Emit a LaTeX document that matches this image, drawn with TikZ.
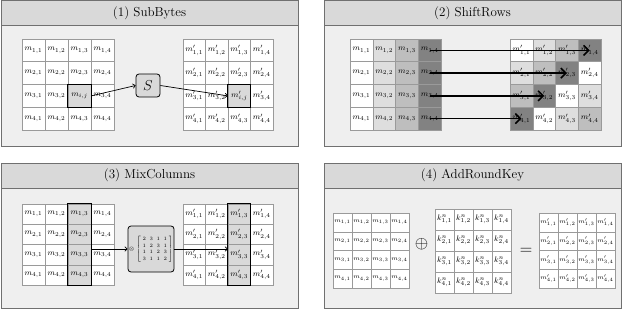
\documentclass[tikz,border=0pt]{standalone}
\usepackage{amsmath}
\usetikzlibrary{arrows.meta}
\definecolor{panelbg}{HTML}{EFEFEF}
\definecolor{headbg}{HTML}{D9D9D9}
\definecolor{panelline}{HTML}{707070}
\definecolor{cellline}{HTML}{9A9A9A}
\definecolor{hlfill}{HTML}{D9D9D9}
\definecolor{shade1}{HTML}{FFFFFF}
\definecolor{shade2}{HTML}{DEDEDE}
\definecolor{shade3}{HTML}{BEBEBE}
\definecolor{shade4}{HTML}{828282}
\begin{document}
\begin{tikzpicture}[x=1pt,y=-1pt,
  panelbox/.style={draw=panelline,fill=panelbg,line width=1pt,minimum width=297pt,minimum height=145pt,inner sep=0pt},
  headbox/.style={draw=panelline,fill=headbg,line width=1pt,minimum width=297pt,minimum height=25pt,inner sep=0pt,font=\fontsize{13}{15}\selectfont},
  cell/.style={draw=cellline,fill=white,line width=0.5pt,inner sep=0pt,font=\fontsize{8.5}{10}\selectfont},
  smallcell/.style={cell,font=\fontsize{6.3}{8}\selectfont},
  keycell/.style={cell,font=\fontsize{8}{10}\selectfont},
  hlframe/.style={draw=black,line width=1pt},
  thinarrow/.style={-{To[length=3pt,width=5pt]},line width=0.7pt},
  bigarrow/.style={-{Straight Barb[length=5pt,width=10pt,line width=1.5pt]},line width=1.5pt},
  opbox/.style={draw=black,fill=hlfill,rounded corners=3pt,line width=0.8pt,inner sep=0pt},
  opsym/.style={inner sep=0pt,font=\fontsize{17}{19}\selectfont}
]
\useasboundingbox (0,0) rectangle (623,310);

% ---------- panels ----------
\node[panelbox] (P1) at (149.5,73.5) {};
\node[headbox] (H1) at (149.5,13.5) {(1) SubBytes};
\node[panelbox] (P2) at (472.5,73.5) {};
\node[headbox] (H2) at (472.5,13.5) {(2) ShiftRows};
\node[panelbox] (P3) at (149.5,235.5) {};
\node[headbox] (H3) at (149.5,175.5) {(3) MixColumns};
\node[panelbox] (P4) at (472.5,235.5) {};
\node[headbox] (H4) at (472.5,175.5) {(4) AddRoundKey};

% ---------- (1) SubBytes ----------
\foreach \i in {1,...,4}{
  \foreach \j in {1,...,4}{
    \ifnum\i\j=33
      \node[cell,fill=hlfill,minimum width=23pt,minimum height=22.75pt] (A-\i-\j) at ({22+(\j-0.5)*23},{39+(\i-0.5)*22.75}) {$m_{i,j}$};
      \node[cell,fill=hlfill,minimum width=22.5pt,minimum height=22.75pt] (B-\i-\j) at ({183+(\j-0.5)*22.5},{39+(\i-0.5)*22.75}) {$m'_{i,j}$};
    \else
      \node[cell,minimum width=23pt,minimum height=22.75pt] (A-\i-\j) at ({22+(\j-0.5)*23},{39+(\i-0.5)*22.75}) {$m_{\i,\j}$};
      \node[cell,minimum width=22.5pt,minimum height=22.75pt] (B-\i-\j) at ({183+(\j-0.5)*22.5},{39+(\i-0.5)*22.75}) {$m'_{\i,\j}$};
    \fi
  }
}
\draw[hlframe] (A-3-3.north west) rectangle (A-3-3.south east);
\draw[hlframe] (B-3-3.north west) rectangle (B-3-3.south east);
\node[opbox,minimum width=24pt,minimum height=23pt,font=\fontsize{15}{17}\selectfont] (S) at (148,85.5) {$S$};
\draw[thinarrow] (A-3-3.east) -- (S.west);
\draw[thinarrow] (S.east) -- (B-3-3.west);

% ---------- (2) ShiftRows ----------
\foreach \i in {1,...,4}{
  \foreach \j in {1,...,4}{
    \pgfmathtruncatemacro\k{mod(\i+\j-2,4)+1}
    \node[cell,fill=shade\j,minimum width=22.75pt,minimum height=22.75pt] (L-\i-\j) at ({350+(\j-0.5)*22.75},{39+(\i-0.5)*22.75}) {$m_{\i,\j}$};
    \node[cell,fill=shade\k,minimum width=22.75pt,minimum height=22.75pt] (R-\i-\j) at ({510+(\j-0.5)*22.75},{39+(\i-0.5)*22.75}) {$m'_{\i,\j}$};
  }
}
\foreach \i in {1,...,4}{
  \pgfmathtruncatemacro\t{5-\i}
  \draw[bigarrow] (L-\i-4.center) -- (R-\i-\t.center);
}

% ---------- (3) MixColumns ----------
\foreach \i in {1,...,4}{
  \foreach \j in {1,...,4}{
    \ifnum\j=3
      \node[cell,fill=hlfill,minimum width=23pt,minimum height=20.25pt] (C-\i-\j) at ({22+(\j-0.5)*23},{204+(\i-0.5)*20.25}) {$m_{\i,\j}$};
      \node[cell,fill=hlfill,minimum width=22.5pt,minimum height=20.25pt] (D-\i-\j) at ({183+(\j-0.5)*22.5},{204+(\i-0.5)*20.25}) {$m'_{\i,\j}$};
    \else
      \node[cell,minimum width=23pt,minimum height=20.25pt] (C-\i-\j) at ({22+(\j-0.5)*23},{204+(\i-0.5)*20.25}) {$m_{\i,\j}$};
      \node[cell,minimum width=22.5pt,minimum height=20.25pt] (D-\i-\j) at ({183+(\j-0.5)*22.5},{204+(\i-0.5)*20.25}) {$m'_{\i,\j}$};
    \fi
  }
}
\draw[hlframe] (C-1-3.north west) rectangle (C-4-3.south east);
\draw[hlframe] (D-1-3.north west) rectangle (D-4-3.south east);
\node[opbox,minimum width=46pt,minimum height=46pt,font=\fontsize{5.5}{6.5}\selectfont] (M) at (151,249)
  {$\otimes\,\left[\arraycolsep=1.8pt\renewcommand{\arraystretch}{1}\begin{array}{cccc}2&3&1&1\\1&2&3&1\\1&1&2&3\\3&1&1&2\end{array}\right]$\hspace{3pt}};
\draw[thinarrow] (C-3-3.east |- M.west) -- (M.west);
\draw[thinarrow] (M.east) -- (D-3-3.west |- M.east);

% ---------- (4) AddRoundKey ----------
\foreach \i in {1,...,4}{
  \foreach \j in {1,...,4}{
    \node[smallcell,minimum width=19pt,minimum height=18.75pt] (E-\i-\j) at ({333+(\j-0.5)*19},{213+(\i-0.5)*18.75}) {$m_{\i,\j}$};
    \node[keycell,minimum width=19pt,minimum height=21pt] (K-\i-\j) at ({435+(\j-0.5)*19},{209+(\i-0.5)*21}) {$k^{n}_{\i,\j}$};
    \node[smallcell,minimum width=19pt,minimum height=18.75pt] (F-\i-\j) at ({539+(\j-0.5)*19},{213+(\i-0.5)*18.75}) {$m'_{\i,\j}$};
  }
}
\node[opsym] (plus) at (421.5,244) {$\oplus$};
\node[opsym] (eq) at (526,251) {$=$};
\end{tikzpicture}
\end{document}
